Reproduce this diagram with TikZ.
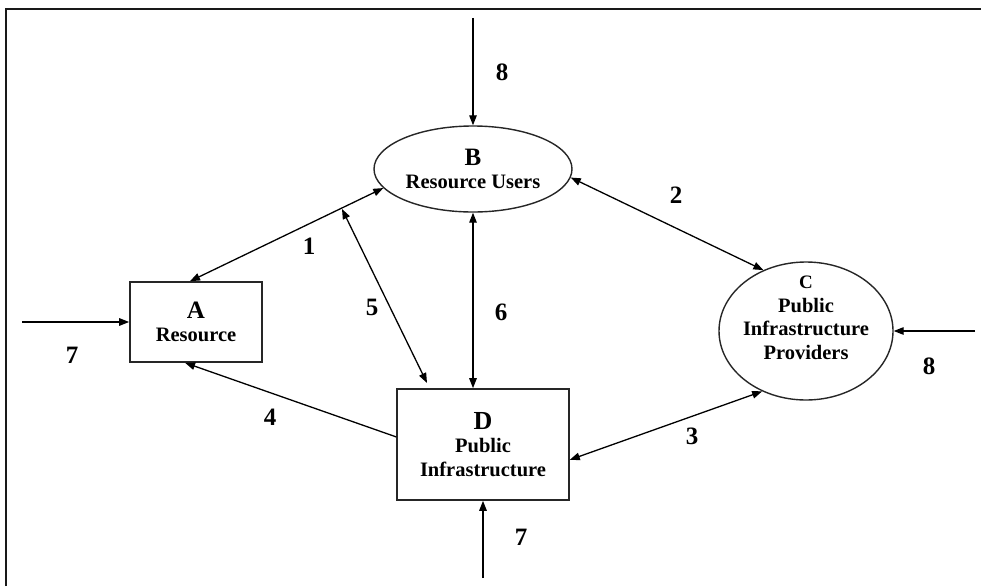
\documentclass[tikz,border=0pt]{standalone}
\usepackage{fontspec}
\setmainfont{Liberation Serif}
\usetikzlibrary{shapes.geometric,arrows.meta}
\begin{document}
\begin{tikzpicture}[x=1pt,y=-1pt,
  ftri/.tip={Triangle[length=10pt,width=7.5pt]},
  conn/.style={line width=1.3pt,black},
  one/.style={conn,-ftri},
  two/.style={conn,ftri-ftri},
  txtfont/.style={font=\bfseries\fontsize{20.5}{23.5}\selectfont},
  boxnode/.style={draw=black!85,line width=1.6pt,rectangle,inner sep=0pt,align=center,txtfont},
  ellnode/.style={draw=black!85,line width=1.4pt,ellipse,inner sep=0pt,align=center,txtfont},
  txtnode/.style={inner sep=0pt,align=center,txtfont},
  num/.style={font=\bfseries\fontsize{25}{25}\selectfont,inner sep=0pt}
]
\useasboundingbox (0,0) rectangle (981,586);
\fill[white] (0,0) rectangle (981,586);
\draw[line width=2pt,black!90] (6,586) -- (6,9) -- (981,9);

% nodes
\node[boxnode,minimum width=132pt,minimum height=80pt] (A) at (196,322)
  {{\fontsize{25}{25}\selectfont A}\\Resource};
\node[ellnode,minimum width=198pt,minimum height=86pt] (B) at (473,169)
  {{\fontsize{25}{25}\selectfont B}\\Resource Users};
\node[ellnode,minimum width=174pt,minimum height=138pt] (C) at (806,331) {};
\node[txtnode] (Ct) at (806,318)
  {{\fontsize{19}{19}\selectfont C}\\Public\\Infrastructure\\Providers};
\node[boxnode,minimum width=172pt,minimum height=111pt] (D) at (483,444.5)
  {{\fontsize{26}{26}\selectfont D}\\Public\\Infrastructure};

% free ends
\coordinate (in8t) at (473,18);
\coordinate (in7l) at (22,322);
\coordinate (in8r) at (975,331);
\coordinate (in7b) at (483,578);
\coordinate (p5a) at (342,209);
\coordinate (p5b) at (427,383);

% connectors
\draw[one] (in8t) -- (B.north);
\draw[one] (in7l) -- (A.west);
\draw[one] (in8r) -- (C.east);
\draw[one] (in7b) -- (D.south);
\draw[two] ([xshift=-6pt]A.north) -- (B.192);
\draw[two] (B.355) -- (C.125);
\draw[two] (D.-10) -- (C.234);
\draw[one] (D.175) -- (A.255);
\draw[two] (p5a) -- (p5b);
\draw[two] (B.south) -- (B.south |- D.north);

% labels
\node[num] (n8t) at (502,72) {8};
\node[num] (n1) at (309,246) {1};
\node[num] (n2) at (676,195) {2};
\node[num] (n5) at (372,307) {5};
\node[num] (n6) at (501,312) {6};
\node[num] (n4) at (270,417) {4};
\node[num] (n3) at (692,436) {3};
\node[num] (n7b) at (521,537) {7};
\node[num] (n7l) at (72,355) {7};
\node[num] (n8r) at (929,366) {8};
\end{tikzpicture}
\end{document}
